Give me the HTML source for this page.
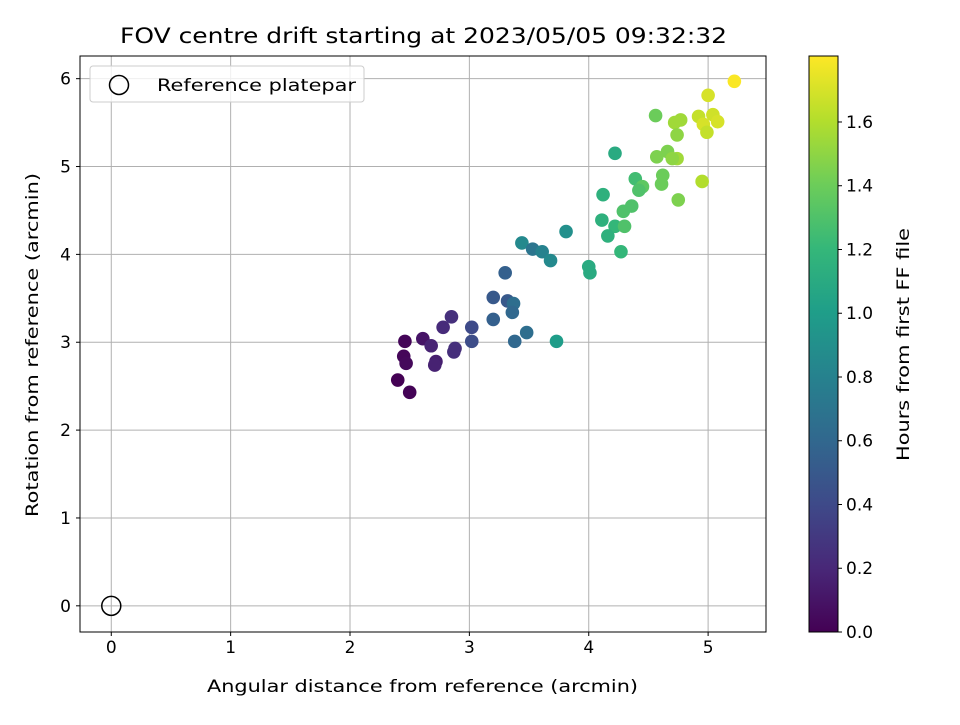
<!DOCTYPE html>
<html><head><meta charset="utf-8"><style>
body{margin:0;background:#fff;font-family:"Liberation Sans",sans-serif}
svg text{font-family:"DejaVu Sans","Liberation Sans",sans-serif}
</style></head><body>
<svg id="c" width="960" height="720" xmlns="http://www.w3.org/2000/svg"></svg>
<script>
const xs=[2.46,2.45,2.47,2.40,2.50,2.61,2.68,2.72,2.71,2.78,2.85,2.88,2.87,3.02,3.02,3.20,3.20,3.30,3.32,3.37,3.36,3.38,3.48,3.73,3.44,3.53,3.61,3.68,3.81,5.22,5.00,4.56,4.77,4.72,4.92,5.04,4.96,5.08,4.99,4.74,4.22,4.66,4.57,4.74,4.70,4.39,4.62,4.61,4.45,4.42,4.95,4.75,4.12,4.36,4.29,4.11,4.22,4.30,4.16,4.27,4.00,4.01];
const ys=[3.01,2.84,2.76,2.57,2.43,3.04,2.96,2.78,2.74,3.17,3.29,2.93,2.89,3.17,3.01,3.26,3.51,3.79,3.47,3.44,3.34,3.01,3.11,3.01,4.13,4.06,4.03,3.93,4.26,5.97,5.81,5.58,5.53,5.50,5.57,5.59,5.48,5.51,5.39,5.36,5.15,5.17,5.11,5.09,5.09,4.86,4.90,4.80,4.77,4.73,4.83,4.62,4.68,4.55,4.49,4.39,4.32,4.32,4.21,4.03,3.86,3.79];
const hrs=[0.02,0.03,0.04,0.0,0.01,0.10,0.18,0.15,0.17,0.22,0.25,0.25,0.24,0.40,0.42,0.55,0.50,0.55,0.50,0.65,0.60,0.60,0.65,1.0,0.85,0.70,0.80,0.85,0.90,1.80,1.70,1.40,1.55,1.55,1.65,1.68,1.70,1.70,1.65,1.50,1.10,1.45,1.45,1.55,1.50,1.25,1.40,1.40,1.35,1.30,1.60,1.45,1.15,1.30,1.30,1.15,1.20,1.30,1.15,1.20,1.10,1.10];
const xTicks=[0,1,2,3,4,5];
const yTicks=[0,1,2,3,4,5,6];
const cTicks=[0.0,0.2,0.4,0.6,0.8,1.0,1.2,1.4,1.6];
const NS='http://www.w3.org/2000/svg',svg=document.getElementById('c');
function el(t,a,p){const e=document.createElementNS(NS,t);for(const k in a)e.setAttribute(k,a[k]);(p||svg).appendChild(e);return e;}
const L=80,T=56,W=686,H=576,x0=-0.262,x1=5.485,y0=-0.298,y1=6.258;
const X=v=>L+(v-x0)/(x1-x0)*W, Y=v=>T+H-(v-y0)/(y1-y0)*H;
const vmax=1.807;
const vir=[[68,1,84],[72,40,120],[62,74,137],[49,104,142],[38,130,142],[31,158,137],[53,183,121],[109,205,89],[180,222,44],[253,231,37]];
function cmap(t){t=Math.max(0,Math.min(1,t))*(vir.length-1);const i=Math.min(Math.floor(t),vir.length-2),f=t-i;const c=vir[i].map((v,k)=>Math.round(v+(vir[i+1][k]-v)*f));return `rgb(${c})`;}
xTicks.forEach(v=>{const g=el('line',{x1:X(v),x2:X(v),y1:T,y2:T+H,stroke:'#b0b0b0','stroke-width':1});
 el('line',{x1:X(v),x2:X(v),y1:T+H,y2:T+H+4,stroke:'#000'});
 const t=el('text',{x:X(v),y:T+H+21,'text-anchor':'middle','font-size':17});t.textContent=v;});
yTicks.forEach(v=>{const g=el('line',{x1:L,x2:L+W,y1:Y(v),y2:Y(v),stroke:'#b0b0b0','stroke-width':1});
 el('line',{x1:L-4,x2:L,y1:Y(v),y2:Y(v),stroke:'#000'});
 const t=el('text',{x:L-9,y:Y(v)+6,'text-anchor':'end','font-size':17});t.textContent=v;});
xs.forEach((v,i)=>{const c=el('circle',{cx:X(v),cy:Y(ys[i]),r:6.8,fill:cmap(hrs[i]/vmax)});});
const ref=el('circle',{cx:X(0),cy:Y(0),r:9.5,fill:'none',stroke:'#000','stroke-width':1.5});
const fr=el('rect',{x:L,y:T,width:W,height:H,fill:'none',stroke:'#000','stroke-width':1});
const lg=el('g',{});
el('rect',{x:90,y:66,width:274,height:36,rx:3,fill:'#fff','fill-opacity':0.8,stroke:'#ccc'},lg);
el('circle',{cx:119,cy:85,r:9.5,fill:'none',stroke:'#000','stroke-width':1.5},lg);
const lt=el('text',{x:157,y:91,'font-size':17,textLength:199,lengthAdjust:'spacingAndGlyphs'},lg);lt.textContent='Reference platepar';
const tt=el('text',{x:120,y:43,'font-size':21,textLength:607,lengthAdjust:'spacingAndGlyphs'});tt.textContent='FOV centre drift starting at 2023/05/05 09:32:32';
const xl=el('text',{x:207,y:692,'font-size':17,textLength:431,lengthAdjust:'spacingAndGlyphs'});xl.textContent='Angular distance from reference (arcmin)';
const yl=el('text',{x:0,y:0,'font-size':17,textLength:344,lengthAdjust:'spacingAndGlyphs',transform:'translate(38 517) rotate(-90)'});yl.textContent='Rotation from reference (arcmin)';
const CL=809,CW=29;
const defs=el('defs',{});const gr=el('linearGradient',{id:'vg',x1:0,y1:1,x2:0,y2:0},defs);
vir.forEach((c,i)=>el('stop',{offset:i/(vir.length-1),'stop-color':`rgb(${c})`},gr));
const cb=el('rect',{x:CL,y:T,width:CW,height:H,fill:'url(#vg)',stroke:'#000'});
const CY=v=>T+H-v/vmax*H;
cTicks.forEach(v=>{el('line',{x1:CL+CW,x2:CL+CW+4,y1:CY(v),y2:CY(v),stroke:'#000'});
 const t=el('text',{x:CL+CW+8,y:CY(v)+6,'font-size':17});t.textContent=v.toFixed(1);});
const cl=el('text',{x:0,y:0,'font-size':17,textLength:233,lengthAdjust:'spacingAndGlyphs',transform:'translate(909 461) rotate(-90)'});cl.textContent='Hours from first FF file';
</script>
</body></html>
